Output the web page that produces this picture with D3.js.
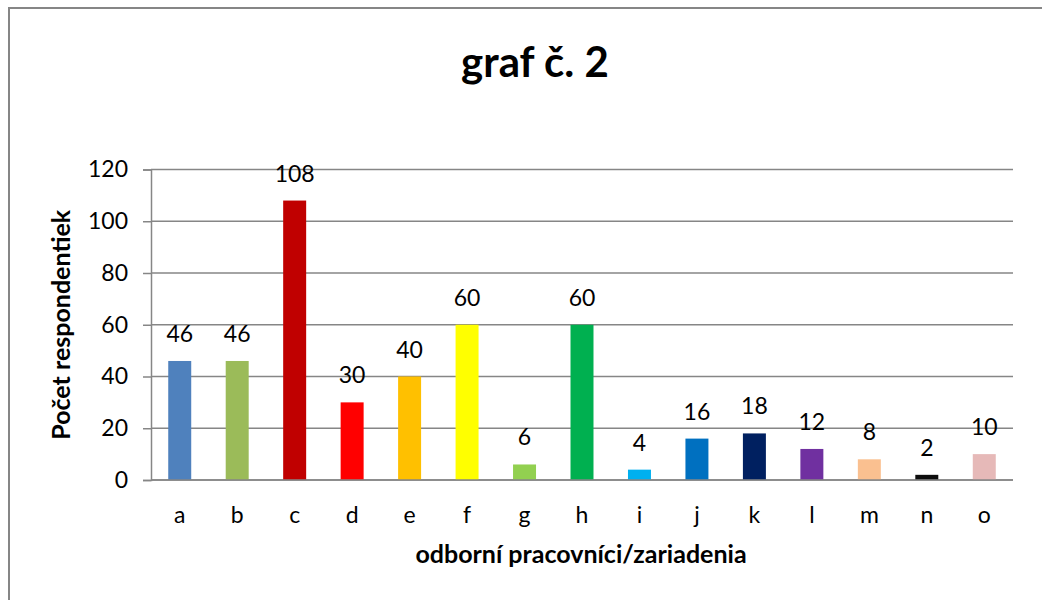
<!DOCTYPE html>
<html>
<head>
<meta charset="utf-8">
<script src="https://cdn.jsdelivr.net/npm/d3@7"></script>
<style>
  html, body { margin: 0; padding: 0; background: #fff; }
  svg { display: block; font-family: Lato, "Open Sans", sans-serif; }
</style>
</head>
<body>
<div id="chart"></div>
<script>
// graf č. 2 — počet respondentiek podľa odborných pracovníkov/zariadení
const categories = ['a', 'b', 'c', 'd', 'e', 'f', 'g', 'h', 'i', 'j', 'k', 'l', 'm', 'n', 'o']
const values = [46, 46, 108, 30, 40, 60, 6, 60, 4, 16, 18, 12, 8, 2, 10]
const barColors = ['#4F81BD', '#9BBB59', '#C00000', '#FF0000', '#FFC000', '#FFFF00', '#92D050', '#00B050',
  '#00B0F0', '#0070C0', '#002060', '#7030A0', '#FAC090', '#0D0D0D', '#E6B9B8']
const yTicks = [0, 20, 40, 60, 80, 100, 120]

const width = 1042
const height = 600
const plot = { left: 151, right: 1013, top: 169.5, bottom: 480 }
const gridColor = '#868686'
const labelSize = 23

const svg = d3.select('#chart').append('svg')
  .attr('width', width).attr('height', height)

// outer chart frame (only top and left edges fall inside the picture)
svg.append('rect')
  .attr('x', 9).attr('y', 8)
  .attr('width', width + 20).attr('height', height + 20)
  .attr('fill', 'none').attr('stroke', gridColor).attr('stroke-width', 2)

const x = d3.scaleBand()
  .domain(categories)
  .range([plot.left, plot.right])
  .paddingInner(0.6)
  .paddingOuter(0.3)

const y = d3.scaleLinear()
  .domain([0, 120])
  .range([plot.bottom, plot.top])

// horizontal gridlines
svg.append('g')
  .selectAll('line')
  .data(yTicks)
  .join('line')
  .attr('x1', plot.left).attr('x2', plot.right)
  .attr('y1', d => y(d)).attr('y2', d => y(d))
  .attr('stroke', gridColor).attr('stroke-width', 1.5)

// y axis
const yAxis = svg.append('g')
  .attr('transform', `translate(${plot.left},0)`)
  .call(d3.axisLeft(y).tickValues(yTicks).tickSize(8).tickPadding(15))
yAxis.select('.domain').attr('stroke', gridColor).attr('stroke-width', 1.5)
yAxis.selectAll('.tick line').attr('stroke', gridColor).attr('stroke-width', 1.5)
yAxis.selectAll('.tick text')
  .attr('fill', '#000').attr('font-size', labelSize).attr('font-family', 'Lato, sans-serif')

// x axis (labels only, no ticks)
const xAxis = svg.append('g')
  .attr('transform', `translate(0,${plot.bottom})`)
  .call(d3.axisBottom(x).tickSize(0).tickPadding(27))
xAxis.select('.domain').remove()
xAxis.selectAll('.tick text')
  .attr('fill', '#000').attr('font-size', labelSize).attr('font-family', 'Lato, sans-serif')

// bars
svg.append('g')
  .selectAll('rect')
  .data(values)
  .join('rect')
  .attr('x', (d, i) => x(categories[i]))
  .attr('width', x.bandwidth())
  .attr('y', d => y(d))
  .attr('height', d => y(0) - y(d))
  .attr('fill', (d, i) => barColors[i])

// baseline drawn over bars
svg.append('line')
  .attr('x1', plot.left).attr('x2', plot.right)
  .attr('y1', y(0)).attr('y2', y(0))
  .attr('stroke', gridColor).attr('stroke-width', 1.5)

// value labels
svg.append('g')
  .selectAll('text')
  .data(values)
  .join('text')
  .attr('x', (d, i) => x(categories[i]) + x.bandwidth() / 2)
  .attr('y', d => y(d) - 19)
  .attr('text-anchor', 'middle')
  .attr('font-size', labelSize)
  .attr('fill', '#000')
  .text(d => d)

// title
svg.append('text')
  .attr('x', 535).attr('y', 77)
  .attr('text-anchor', 'middle')
  .attr('font-size', 42).attr('font-weight', 700)
  .text('graf č. 2')

// axis titles
svg.append('text')
  .attr('x', (plot.left + plot.right) / 2 - 1).attr('y', 563)
  .attr('text-anchor', 'middle')
  .attr('font-size', 25).attr('font-weight', 700)
  .text('odborní pracovníci/zariadenia')

svg.append('text')
  .attr('transform', `translate(70,${(plot.top + plot.bottom) / 2}) rotate(-90)`)
  .attr('text-anchor', 'middle')
  .attr('font-size', 25).attr('font-weight', 700)
  .text('Počet respondentiek')
</script>
</body>
</html>
